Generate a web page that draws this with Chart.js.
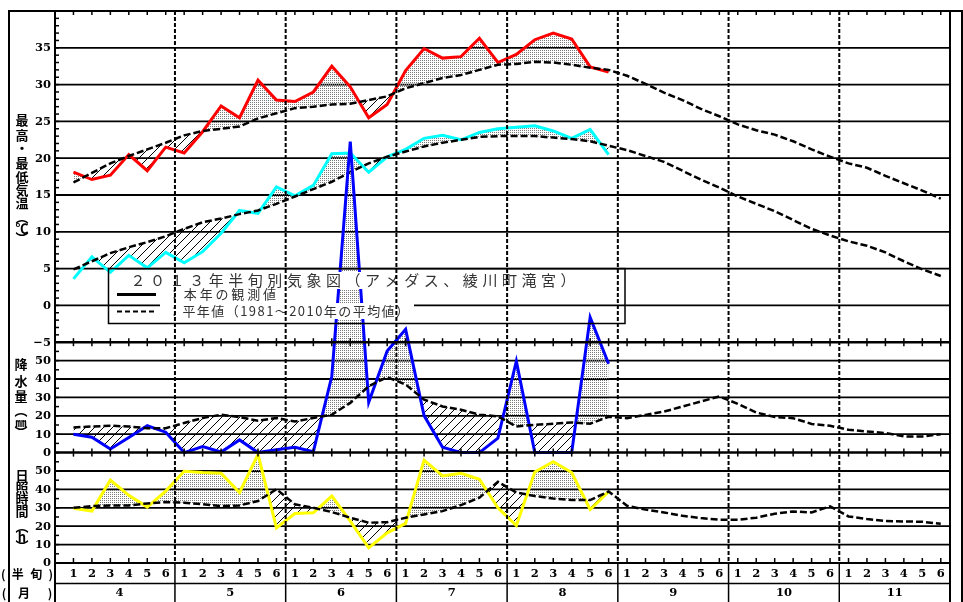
<!DOCTYPE html>
<html><head><meta charset="utf-8">
<script src="https://cdn.jsdelivr.net/npm/chart.js@4.4.1/dist/chart.umd.min.js"></script>
<style>html,body{margin:0;padding:0;background:#fff;overflow:hidden}canvas{display:block}</style>
</head><body>
<canvas id="c" width="963" height="602"></canvas>
<script>
// ---- data (half-month periods, April 1st half-period .. November 6th) ----
const halfLabels = ['1','2','3','4','5','6'];
const monthLabels = ['4','5','6','7','8','9','10','11'];
const tempTicks = [35,30,25,20,15,10,5,0,-5];
const rainTicks = [50,40,30,20,10,0];
const sunTicks = [50,40,30,20,10,0];

const maxTempActual = [18.1,17.1,17.7,20.5,18.3,21.5,20.7,23.6,27.1,25.5,30.6,27.9,27.7,29.0,32.5,29.7,25.5,27.3,31.9,34.9,33.6,33.8,36.3,33.0,34.1,36.1,37.0,36.2,32.4,31.7];
const maxTempNormal = [16.7,18.0,19.3,20.3,21.2,22.1,23.1,23.7,24.0,24.3,25.4,26.1,26.8,27.0,27.3,27.4,27.9,28.4,29.5,30.2,30.9,31.3,32.0,32.7,32.8,33.1,33.0,32.7,32.3,32.0,31.2,30.1,28.9,27.9,26.7,25.7,24.6,23.8,23.2,22.3,21.2,20.2,19.3,18.7,17.6,16.6,15.6,14.5];
const minTempActual = [3.6,6.6,4.5,6.8,5.1,7.2,5.8,7.3,9.8,12.9,12.5,16.1,14.9,16.3,20.6,20.7,18.1,20.2,21.2,22.7,23.1,22.5,23.5,24.0,24.2,24.4,23.7,22.7,23.9,20.5];
const minTempNormal = [4.9,6.0,7.1,7.9,8.6,9.4,10.4,11.3,11.8,12.4,12.9,13.8,14.8,15.8,16.8,18.1,19.3,20.2,20.9,21.6,22.1,22.5,22.9,23.0,23.0,23.0,22.8,22.6,22.3,21.7,21.1,20.3,19.5,18.3,17.1,16.0,14.8,13.8,12.8,11.6,10.4,9.5,8.7,8.1,7.2,6.0,4.9,4.0];
const rainActual = [10.0,8.4,2.0,8.2,14.6,11.1,0,3.3,0.3,6.9,0,1.5,2.9,0.5,41.5,169,27.3,55.2,67,20.1,2.9,0,0,7.8,49.7,0,0,0,73.5,48.3];
const rainNormal = [13.7,14.2,14.6,14.2,13.3,13.3,16.1,18.8,20.6,19.3,17.3,18.8,16.9,18.8,20.6,27.0,36.1,41.0,37.0,28.8,25.1,23.3,20.6,19.7,14.2,15.1,15.7,16.4,15.7,19.5,18.7,20.5,22.3,25.0,27.8,30.5,26.5,21.8,19.4,18.7,15.6,14.6,12.4,11.5,10.6,8.8,8.8,10.0];
const sunActual = [29.7,28.2,45.1,36.8,30.4,39.1,49.9,49.2,48.8,38.3,59.0,19.1,26.9,27.3,36.4,22.7,8.2,16.4,21.5,55.9,47.3,48.8,45.5,30.0,20.4,49.5,55.0,49.2,29.1,38.8];
const sunNormal = [30.0,30.9,31.3,31.3,32.4,33.1,32.8,31.9,30.9,31.3,33.7,40.1,31.9,30.0,27.7,24.6,21.9,22.2,24.6,26.4,28.2,31.5,35.5,44.1,38.3,36.4,35.0,34.2,34.2,38.9,31.1,29.0,27.5,25.7,24.4,23.5,23.5,24.6,26.8,28.0,27.5,30.8,25.3,23.9,22.8,22.6,22.4,21.3];

const titleText = '２０１３年半旬別気象図（アメダス、綾川町滝宮）';
const legendObs = '：本年の観測値';
const legendNormal = '：平年値（1981～2010年の平均値）';

// ---- patterns ----
function makeStipple(){
  const p=document.createElement('canvas'); p.width=2; p.height=2;
  const g=p.getContext('2d'); g.fillStyle='#7a7a7a'; g.fillRect(0,0,1,1);
  return g.createPattern(p,'repeat');
}
function makeHatch(){
  const n=9; const p=document.createElement('canvas'); p.width=n; p.height=n;
  const g=p.getContext('2d'); g.strokeStyle='#000'; g.lineWidth=1;
  g.beginPath(); g.moveTo(-1,n+1); g.lineTo(n+1,-1);
  g.moveTo(-2,2); g.lineTo(2,-2); g.moveTo(n-2,n+2); g.lineTo(n+2,n-2); g.stroke();
  return g.createPattern(p,'repeat');
}
const ctx0=document.getElementById('c').getContext('2d');
const STIP=makeStipple(), HATCH=makeHatch();

const pts = arr => arr.map((v,i)=>({x:i,y:v}));

function actualDS(data,color,axis,target,order){
  return {data:pts(data),borderColor:color,borderWidth:3,pointRadius:0,tension:0,yAxisID:axis,
    fill:{target:target,above:STIP,below:HATCH},backgroundColor:'rgba(0,0,0,0)',order:order};
}
function normalDS(data,axis,order){
  return {data:pts(data),borderColor:'#000',borderWidth:2.5,borderDash:[7,3],pointRadius:0,tension:0,yAxisID:axis,fill:false,order:order};
}

function seg(c,x1,y1,x2,y2){c.beginPath();c.moveTo(x1,y1);c.lineTo(x2,y2);c.stroke();}
function fitText(c,text,x0,x1,y){
  const chars=[...text]; const w=chars.map(ch=>c.measureText(ch).width);
  const tot=w.reduce((a,b)=>a+b,0); const extra=chars.length>1?(x1-x0-tot)/(chars.length-1):0;
  let x=x0; c.textAlign='left';
  chars.forEach((ch,k)=>{c.fillText(ch,x,y); x+=w[k]+extra;});
}
function vText(c,items,x){
  c.textAlign='center'; c.textBaseline='middle';
  items.forEach(([ch,y])=>c.fillText(ch,x,y));
}

const decor={
  id:'decor',
  beforeDraw(chart){const c=chart.ctx;c.save();c.fillStyle='#fff';c.fillRect(0,0,chart.width,chart.height);c.restore();},
  beforeDatasetsDraw(chart){
    const c=chart.ctx,s=chart.scales,a=chart.chartArea;
    c.save(); c.strokeStyle='#000'; c.lineWidth=1.8;
    [0,5,10,15,20,25,30,35].forEach(v=>{const y=s.yT.getPixelForValue(v);seg(c,a.left,y,a.right,y);});
    [10,20,30,40,50].forEach(v=>{const y=s.yP.getPixelForValue(v);seg(c,a.left,y,a.right,y);});
    [10,20,30,40,50].forEach(v=>{const y=s.yS.getPixelForValue(v);seg(c,a.left,y,a.right,y);});
    c.restore();
  },
  afterDatasetsDraw(chart){
    const c=chart.ctx,s=chart.scales,a=chart.chartArea;
    const X=i=>s.x.getPixelForValue(i);
    const L=a.left,R=a.right,T=a.top,B=a.bottom;
    const yb1=s.yT.getPixelForValue(-5), yb2=s.yP.getPixelForValue(0);
    c.save();
    // legend box
    const lgTop=s.yT.getPixelForValue(5);
    c.fillStyle='#fff';
    c.fillRect(128,272,452,17);
    c.fillRect(164,288,116,13);
    c.fillRect(160,303,254,16);
    c.fillStyle='#333'; c.textBaseline='middle'; c.textAlign='center';
    c.font='15px "Noto Sans CJK JP"';
    [...titleText].forEach((ch,k)=>c.fillText(ch,138+k*19.55,280.5));
    c.font='13px "Noto Sans CJK JP"';
    fitText(c,legendObs,168,276,294.5);
    fitText(c,legendNormal,168,409,311.5);
    c.strokeStyle='#000';
    c.lineWidth=3; seg(c,117,294.5,156,294.5);
    c.lineWidth=2; c.setLineDash([5,3]); seg(c,117,311.5,157,311.5); c.setLineDash([]);
    c.lineWidth=1.5; c.strokeRect(108.5,lgTop,625-108.5,323.5-lgTop);
    // month dividers
    for(let k=1;k<=7;k++){
      const x=X(6*k-0.5);
      c.lineWidth=2; c.setLineDash([4,2]); seg(c,x,T,x,B); c.setLineDash([]);
      c.lineWidth=1.5; seg(c,x,B,x,602);
    }
    // frames
    c.lineWidth=2;
    seg(c,L,T,L,602); seg(c,R,T,R,602);
    seg(c,9,T-1,9,602); seg(c,962,T-1,962,602); seg(c,8,T,963,T);
    c.lineWidth=2.5; seg(c,L,yb1,R,yb1); seg(c,L,yb2,R,yb2);
    c.lineWidth=2; seg(c,L,B,R,B);
    c.lineWidth=1.5; seg(c,L,583.5,R,583.5);
    // ticks
    c.lineWidth=1.5;
    for(let i=0;i<48;i++){const x=X(i);
      seg(c,x,T,x,T+4); seg(c,x,yb1-4,x,yb1+4); seg(c,x,yb2-4,x,yb2+4); seg(c,x,B-5,x,B);}
    for(let v=-5;v<=40;v++){const y=s.yT.getPixelForValue(v);seg(c,L,y,L+4,y);}
    for(let v=0;v<=60;v+=5){let y=s.yP.getPixelForValue(v);seg(c,L,y,L+4,y);y=s.yS.getPixelForValue(v);seg(c,L,y,L+4,y);}
    // tick labels
    c.fillStyle='#000'; c.font='bold 11.5px "DejaVu Serif"'; c.textAlign='right'; c.textBaseline='middle';
    tempTicks.forEach(v=>c.fillText(v<0?'−'+(-v):String(v),51,s.yT.getPixelForValue(v)+0.5));
    rainTicks.forEach(v=>c.fillText(String(v),51,s.yP.getPixelForValue(v)+0.5));
    sunTicks.forEach(v=>c.fillText(String(v),51,s.yS.getPixelForValue(v)+0.5));
    // bottom labels
    c.textAlign='center';
    for(let i=0;i<48;i++) c.fillText(halfLabels[i%6],X(i),574);
    monthLabels.forEach((m,k)=>c.fillText(m,X(6*k+2.5),593.5));
    // axis titles
    c.font='bold 13px "Noto Sans CJK JP"';
    vText(c,[['最',120],['高',135],['・',148],['最',163],['低',177],['気',190],['温',203],['︵',217],['℃',228],['︶',238]],22);
    vText(c,[['降',364],['水',381],['量',396],['︵',410],['︶',432]],21);
    c.font='bold 11px "Noto Sans CJK JP"'; c.fillText('㎜',21,423);
    c.font='bold 13px "Noto Sans CJK JP"';
    vText(c,[['日',475],['照',487],['時',499],['間',511],['︵',526],['h',537],['︶',546]],22);
    c.font='bold 12px "Noto Sans CJK JP"'; c.textBaseline='middle';
    fitText(c,'(半旬)',1,53,574);
    c.textAlign='center'; c.fillText('(',4,593.5); c.fillText('月',24,593.5); c.fillText(')',50,593.5);
    c.restore();
  }
};

new Chart(ctx0,{
  type:'line',
  data:{datasets:[
    actualDS(maxTempActual,'#ff0000','yT',1,8),
    normalDS(maxTempNormal,'yT',7),
    actualDS(minTempActual,'#00ffff','yT',3,6),
    normalDS(minTempNormal,'yT',5),
    actualDS(rainActual,'#0000ff','yP',5,4),
    normalDS(rainNormal,'yP',3),
    actualDS(sunActual,'#ffff00','yS',7,2),
    normalDS(sunNormal,'yS',1)
  ]},
  options:{
    responsive:false, animation:false, devicePixelRatio:1,
    layout:{padding:{left:55,right:13,top:11,bottom:39}},
    plugins:{legend:{display:false},tooltip:{enabled:false},title:{display:false}},
    scales:{
      x:{type:'linear',min:-1,max:47.5,display:false},
      yT:{type:'linear',min:-35,max:40,display:false},
      yP:{type:'linear',min:-60,max:240,display:false},
      yS:{type:'linear',min:0,max:300,display:false}
    }
  },
  plugins:[decor]
});
</script>
</body></html>
